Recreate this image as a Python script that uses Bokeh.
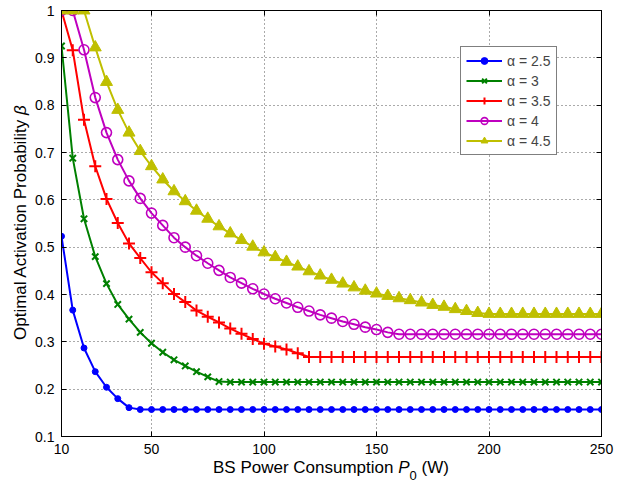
from bokeh.plotting import figure
from bokeh.layouts import row, column
from bokeh.models import LinearAxis, FixedTicker, Range1d, Legend, LegendItem, Div
from bokeh.embed import file_html
from bokeh.resources import INLINE

# ---------------- data ----------------
P0 = [10, 15, 20, 25, 30, 35, 40, 45, 50, 55, 60, 65, 70, 75, 80, 85, 90, 95, 100,
      105, 110, 115, 120, 125, 130, 135, 140, 145, 150, 155, 160, 165, 170, 175, 180,
      185, 190, 195, 200, 205, 210, 215, 220, 225, 230, 235, 240, 245, 250]

beta_a25 = [0.523, 0.367, 0.287, 0.237, 0.204, 0.180, 0.161] + [0.157] * 42

beta_a3 = [0.925, 0.688, 0.560, 0.480, 0.423, 0.379, 0.348, 0.320, 0.297, 0.278,
           0.262, 0.249, 0.237, 0.226, 0.216] + [0.215] * 34

beta_a35 = [1.0, 0.916, 0.769, 0.671, 0.602, 0.551, 0.508, 0.477, 0.447, 0.424,
            0.401, 0.384, 0.366, 0.353, 0.341, 0.328, 0.317, 0.306, 0.296, 0.290,
            0.284, 0.276, 0.268] + [0.268] * 26

beta_a4 = [1.0, 1.0, 0.917, 0.816, 0.742, 0.685, 0.640, 0.603, 0.572, 0.546,
           0.520, 0.500, 0.482, 0.466, 0.451, 0.436, 0.424, 0.412, 0.401, 0.391,
           0.382, 0.373, 0.365, 0.357, 0.350, 0.343, 0.337, 0.331, 0.326, 0.320,
           0.316] + [0.316] * 18

beta_a45 = [1.0, 1.0, 1.0, 0.922, 0.849, 0.790, 0.742, 0.703, 0.671, 0.643,
            0.618, 0.597, 0.577, 0.560, 0.544, 0.529, 0.515, 0.501, 0.489, 0.479,
            0.469, 0.459, 0.449, 0.440, 0.431, 0.423, 0.415, 0.408, 0.402, 0.397,
            0.392, 0.388, 0.383, 0.378, 0.374, 0.369, 0.365, 0.361, 0.359] + [0.359] * 10

labels = ["\u03b1 = 2.5", "\u03b1 = 3", "\u03b1 = 3.5", "\u03b1 = 4", "\u03b1 = 4.5"]
x_ticks = [10, 50, 100, 150, 200, 250]
y_ticks = [0.1, 0.2, 0.3, 0.4, 0.5, 0.6, 0.7, 0.8, 0.9, 1.0]

FONT = "Liberation Sans"

# ---------------- figure ----------------
p = figure(width=600, height=459, output_backend="svg", toolbar_location=None,
           x_range=Range1d(10, 250), y_range=Range1d(0.1, 1.0),
           min_border_left=31, min_border_right=29, min_border_top=10,
           min_border_bottom=23)
p.outline_line_color = "black"
p.outline_line_width = 1
p.background_fill_color = "white"
p.border_fill_color = "white"

p.xaxis.ticker = FixedTicker(ticks=x_ticks)
p.yaxis.ticker = FixedTicker(ticks=y_ticks)
p.yaxis.major_label_overrides = {1: "1"}
for ax in (p.xaxis[0], p.yaxis[0]):
    ax.major_tick_in = 5
    ax.major_tick_out = 0
    ax.minor_tick_line_color = None
    ax.axis_line_color = "black"
    ax.major_tick_line_color = "black"
    ax.major_label_text_font = FONT
    ax.major_label_text_font_size = "14px"
    ax.major_label_text_color = "black"
    ax.major_label_standoff = 7

top_ax = LinearAxis(ticker=FixedTicker(ticks=x_ticks), major_tick_in=5, major_tick_out=0,
                    minor_tick_line_color=None, major_label_text_font_size="1px",
                    major_label_text_color=None, major_label_standoff=0,
                    axis_line_color="black")
right_ax = LinearAxis(ticker=FixedTicker(ticks=y_ticks), major_tick_in=5, major_tick_out=0,
                      minor_tick_line_color=None, major_label_text_font_size="1px",
                      major_label_text_color=None, major_label_standoff=0,
                      axis_line_color="black")
p.add_layout(top_ax, "above")
p.add_layout(right_ax, "right")

p.xgrid.ticker = FixedTicker(ticks=x_ticks)
p.ygrid.ticker = FixedTicker(ticks=y_ticks)
for g in (p.xgrid[0], p.ygrid[0]):
    g.grid_line_color = "#555555"
    g.grid_line_dash = "1 3"
    g.grid_line_width = 1

# ---------------- series ----------------
styles = [
    (beta_a25, "#0000ff", "circle", 6, "#0000ff", 1),
    (beta_a3, "#008000", "x", 9, None, 2),
    (beta_a35, "#ff0000", "cross", 12, None, 2),
    (beta_a4, "#bf00bf", "circle", 10, None, 1.6),
    (beta_a45, "#bfbf00", "triangle", 12, "#bfbf00", 1),
]
items = []
for lab, (ys, col, mk, sz, fill, lw) in zip(labels, styles):
    lr = p.line(P0, ys, line_color=col, line_width=2)
    sr = p.scatter(P0, ys, marker=mk, size=sz, line_color=col, line_width=lw,
                   fill_color=fill, fill_alpha=1 if fill else 0)
    items.append(LegendItem(label=lab, renderers=[lr, sr]))

legend = Legend(items=items, location=(399, 281), padding=5, spacing=3,
                glyph_width=36, glyph_height=17, label_height=17, label_standoff=5,
                label_text_font=FONT, label_text_font_size="14px",
                border_line_color="black", border_line_width=1,
                background_fill_color="white", background_fill_alpha=1, margin=0)
p.add_layout(legend)

# ---------------- axis titles (HTML text, with italics) ----------------
txt = "font-family:'Liberation Sans'; font-size:17px; line-height:17px; color:black; white-space:nowrap;"

ylab = Div(width=30, height=459, margin=0, styles={"overflow": "visible"},
           text=("<div style=\"position:relative; left:12px; top:340px; width:0; height:0;\">"
                 "<div style=\"transform:rotate(-90deg); transform-origin:0 0; " + txt + "\">"
                 "Optimal Activation Probability <i>\u03b2</i></div></div>"))

xlab = Div(width=600, height=27, margin=0, styles={"overflow": "visible"},
           text=("<div style=\"position:relative; left:183px; top:0; " + txt + "\">"
                 "BS Power Consumption <i>P</i>"
                 "<span style=\"font-size:13px; position:relative; top:7px;\">0</span>"
                 " (W)</div>"))

layout = row(ylab, column(p, xlab, spacing=0, margin=0), spacing=0, margin=0)

open("out.html", "w").write(file_html(layout, INLINE))
